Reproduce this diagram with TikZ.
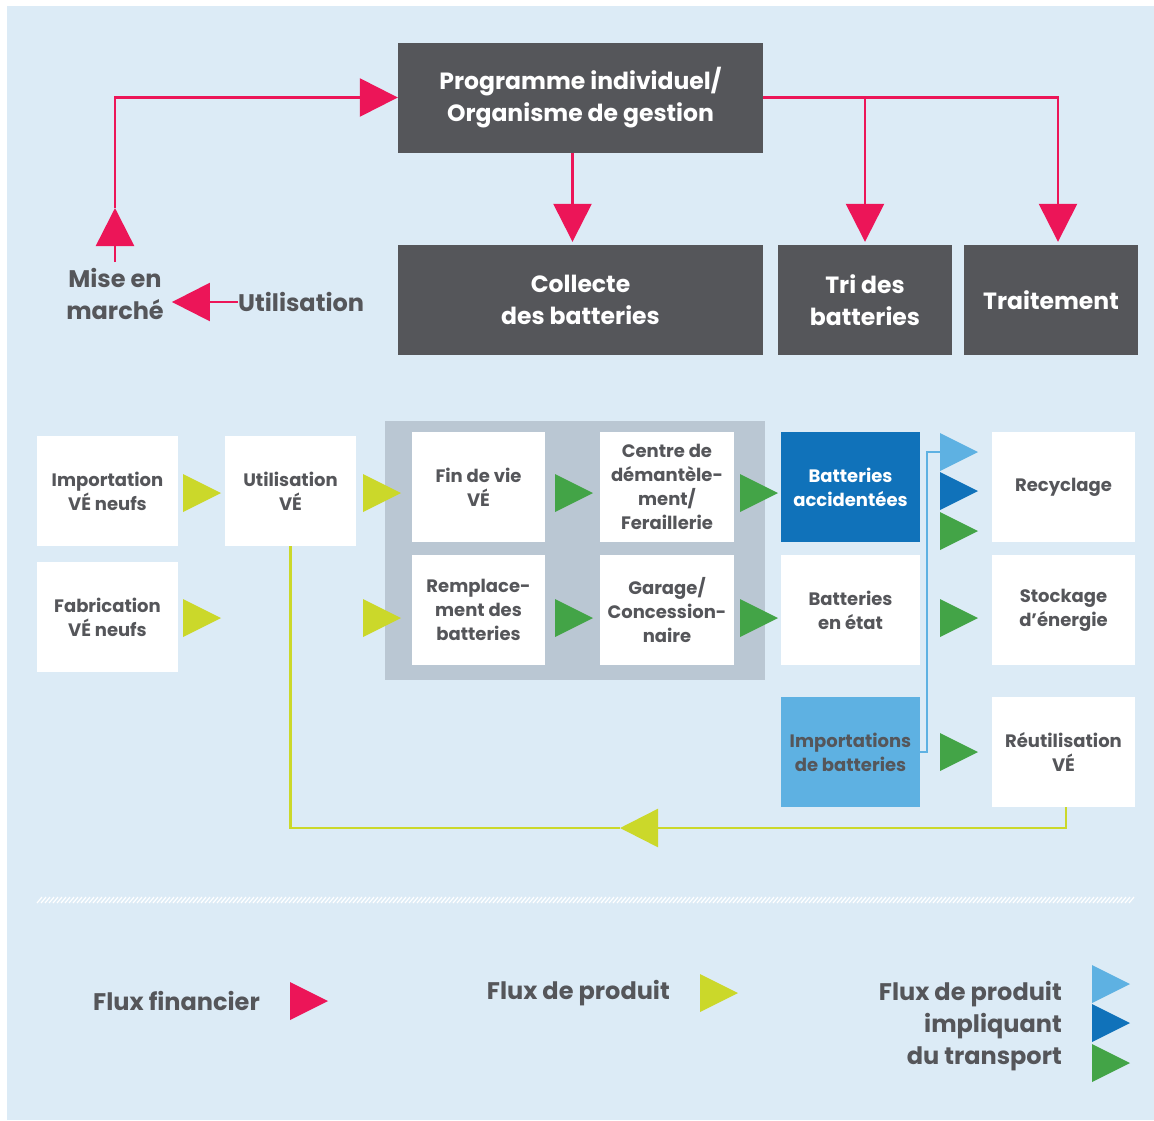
\documentclass[tikz,border=0pt]{standalone}
\usepackage{fontspec}
\setmainfont{Poppins}
\usetikzlibrary{arrows.meta}

\definecolor{bgblue}{HTML}{DCEBF6}
\definecolor{boxgrey}{HTML}{55565A}
\definecolor{finpink}{HTML}{EC1558}
\definecolor{prodyellow}{HTML}{CBD82A}
\definecolor{transgreen}{HTML}{43A447}
\definecolor{darkblue}{HTML}{1072BA}
\definecolor{lightblue}{HTML}{5EB1E2}
\definecolor{panelgrey}{HTML}{BAC7D3}

\tikzset{
  topbox/.style={fill=boxgrey, text=white, align=center, inner sep=0pt,
    minimum height=110pt, font=\bfseries\fontsize{23.5}{32}\selectfont},
  box/.style={fill=white, text=boxgrey, align=center, inner sep=0pt,
    minimum height=110pt, font=\bfseries\fontsize{18}{24}\selectfont},
  label/.style={text=boxgrey, align=center, inner sep=0pt,
    font=\bfseries\fontsize{24}{32}\selectfont},
  fin/.style={draw=finpink, line width=2.5pt, -{Triangle[length=38pt,width=38pt]}},
  prod/.style={draw=prodyellow, line width=2.5pt},
  imp/.style={draw=lightblue, line width=2.5pt},
}

\begin{document}
\begin{tikzpicture}[x=1pt,y=-1pt]
  \useasboundingbox (0,0) rectangle (1154,1120);
  \fill[bgblue] (7,6) rectangle (1154,1120);

  % top part
  \node[topbox, minimum width=365pt] (prog) at (580.5,97.5) {Programme individuel/\\Organisme de gestion};
  \node[topbox, minimum width=365pt] (collecte) at (580.5,300) {Collecte\\des batteries};
  \node[topbox, minimum width=174pt] (tri) at (865,300) {Tri des\\batteries};
  \node[topbox, minimum width=174pt] (trait) at (1051,300) {Traitement};
  \node[label] (mise) at (115,294) {Mise en\\marché};
  \node[label, anchor=west] (util) at (238,302) {Utilisation};
  \coordinate (misetop) at (115,262);
  \coordinate (miseup) at (115,208);

  \draw[fin] (misetop) -- (miseup);
  \draw[fin] (miseup) |- (prog.west);
  \draw[fin] (util.west) -- ([xshift=8pt]mise.east |- util.west);
  \draw[fin] ([xshift=-8pt]prog.south) -- ([xshift=-8pt,yshift=3pt]collecte.north);
  \draw[fin] (prog.east -| tri.north) -- ([yshift=3pt]tri.north);
  \draw[fin] (prog.east) -| ([xshift=7pt,yshift=3pt]trait.north);

  % chain
  \fill[panelgrey] (385,421) rectangle (765,680);
  \node[box, minimum width=141pt] (impvn) at (107.5,491) {Importation\\VÉ neufs};
  \node[box, minimum width=141pt] (fabvn) at (107.5,617) {Fabrication\\VÉ neufs};
  \node[box, minimum width=131pt] (utilve) at (290.5,491) {Utilisation\\VÉ};
  \node[box, minimum width=133pt] (findevie) at (478.5,487) {Fin de vie\\VÉ};
  \node[box, minimum width=133pt] (rempl) at (478.5,610) {Remplace-\\ment des\\batteries};
  \node[box, minimum width=134pt] (centre) at (667,487) {Centre de\\démantèle-\\ment/\\Feraillerie};
  \node[box, minimum width=134pt] (garage) at (667,610) {Garage/\\Concession-\\naire};
  \node[box, minimum width=139pt, fill=darkblue, text=white] (accid) at (850.5,487) {Batteries\\accidentées};
  \node[box, minimum width=139pt] (etat) at (850.5,610) {Batteries\\en état};
  \node[box, minimum width=139pt, fill=lightblue] (impbat) at (850.5,752) {Importations\\de batteries};
  \node[box, minimum width=143pt] (recyc) at (1063.5,487) {Recyclage};
  \node[box, minimum width=143pt] (stock) at (1063.5,610) {Stockage\\d’énergie};
  \node[box, minimum width=143pt] (reutil) at (1063.5,752) {Réutilisation\\VÉ};
  \coordinate (lbtri) at (940,452);
  \coordinate (backarrow) at (620,828);

  \draw[imp] (impbat.east) -- ++(7,0) |- (lbtri);
  \draw[prod, -{Triangle[length=38pt,width=38pt]}] ([xshift=2.5pt]reutil.south) |- (backarrow);
  \draw[prod] (backarrow) -| (utilve.south);

  % flow marks
  \foreach \x/\y/\c in {183/493/prodyellow, 183/618/prodyellow, 363/493/prodyellow, 363/618/prodyellow,
      555/493/transgreen, 555/618/transgreen, 740/493/transgreen, 740/618/transgreen,
      940/452/lightblue, 940/491/darkblue, 940/531/transgreen, 940/618/transgreen, 940/752/transgreen,
      290/1001/finpink, 700/993/prodyellow,
      1092/984/lightblue, 1092/1023/darkblue, 1092/1063/transgreen}
    \fill[\c] (\x,\y-19) -- ++(38,19) -- ++(-38,19) -- cycle;

  % hatched rule
  \foreach \x in {37,41,...,1131}
    \draw[white, line width=1.2pt] (\x,903) -- (\x+5,897);

  % legend
  \node[label, anchor=east] (lfin) at (260,1001) {Flux financier};
  \node[label, anchor=east] (lprod) at (670,993) {Flux de produit};
  \node[label, anchor=east, align=right] (ltrans) at (1062,1026) {Flux de produit\\impliquant\\du transport};
\end{tikzpicture}
\end{document}
